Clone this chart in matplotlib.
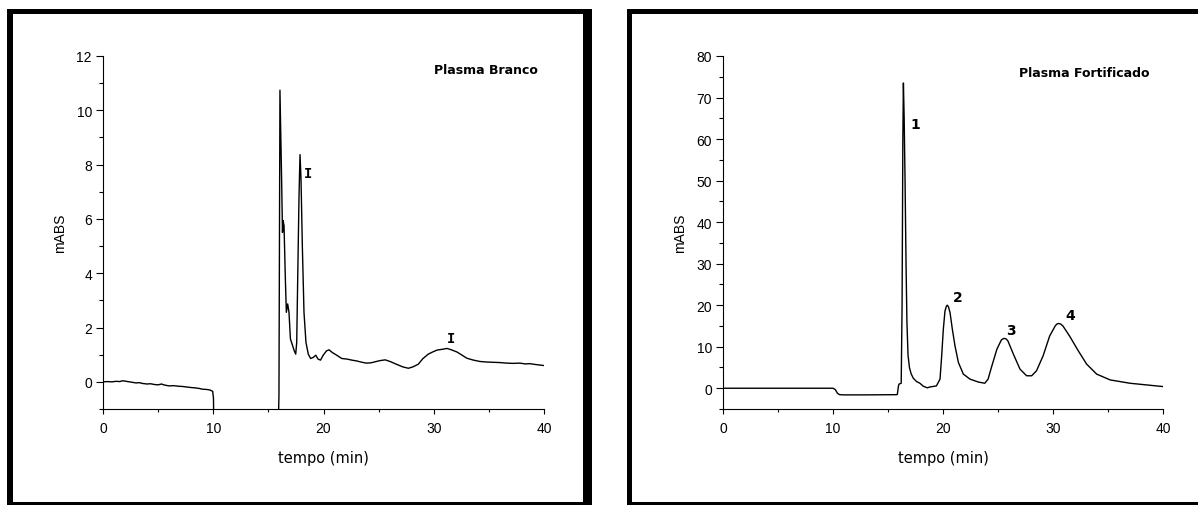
import matplotlib
matplotlib.use("Agg")
import matplotlib.pyplot as plt
from matplotlib.patches import Rectangle
from matplotlib.ticker import MultipleLocator

# Plasma Branco (left) - tempo (min), mABS
t_branco = [0, 0.4, 0.8, 1.2, 1.5, 1.8, 2.1, 2.4, 2.7, 3.0, 3.3, 3.6, 4.0, 4.3, 4.7,
            5.0, 5.3, 5.6, 6.0, 6.4, 6.8, 7.2, 7.6, 8.0, 8.3, 8.7, 9.0, 9.4, 9.7,
            9.95, 10.02, 10.05,
            15.9, 15.96, 16.05, 16.2, 16.28, 16.33, 16.42, 16.54, 16.63, 16.75,
            16.87, 17.0, 17.2, 17.35, 17.48, 17.57, 17.66, 17.78, 17.87, 17.96,
            18.08, 18.23, 18.41, 18.62, 18.83, 19.07, 19.3, 19.5, 19.73, 19.97,
            20.27, 20.5, 20.8, 21.2, 21.66, 22.1, 22.57, 23.0, 23.5, 23.9, 24.3,
            24.7, 25.1, 25.6, 26.1, 26.6, 27.2, 27.7, 28.1, 28.6, 29.0, 29.5,
            29.9, 30.3, 30.8, 31.2, 31.6, 32.1, 32.5, 33.0, 33.6, 34.2, 34.8,
            35.4, 36.0, 36.6, 37.2, 37.8, 38.3, 38.7, 39.2, 39.6, 40.0]
y_branco = [0.0, 0.01, 0.0, 0.02, 0.01, 0.04, 0.02, 0.0, -0.02, -0.04, -0.03, -0.06, -0.08, -0.07, -0.1,
            -0.11, -0.08, -0.12, -0.15, -0.14, -0.16, -0.17, -0.19, -0.21, -0.22, -0.24, -0.27, -0.28, -0.3,
            -0.35, -0.6, -1.6,
            -1.6, -0.5, 10.74, 7.47, 5.5, 5.94, 5.76, 3.79, 2.56, 2.87,
            2.56, 1.58, 1.33, 1.14, 1.02, 1.45, 3.79, 6.86, 8.37, 7.47,
            5.02, 2.56, 1.45, 1.02, 0.86, 0.9, 0.98, 0.84, 0.8, 0.98,
            1.14, 1.18, 1.08, 0.98, 0.86, 0.84, 0.8, 0.77, 0.72, 0.69, 0.7,
            0.74, 0.78, 0.81, 0.74, 0.65, 0.55, 0.5, 0.55, 0.65, 0.85, 1.02,
            1.1, 1.17, 1.2, 1.23, 1.18, 1.1, 1.0, 0.87, 0.8, 0.75, 0.73,
            0.72, 0.71, 0.69, 0.68, 0.69, 0.66, 0.67, 0.64, 0.62, 0.6]

# Plasma Fortificado (right)
t_fort = [0, 5.0, 10.0, 10.2, 10.4, 10.6, 11.0, 13.0, 15.8, 15.85, 15.95, 16.0, 16.2,
          16.28, 16.35, 16.4, 16.47, 16.55, 16.64, 16.72, 16.82, 16.95, 17.1, 17.3,
          17.6, 17.9, 18.2, 18.57, 18.8, 19.4, 19.73, 19.88, 20.03, 20.18, 20.3,
          20.39, 20.5, 20.64, 20.85, 21.09, 21.4, 21.85, 22.45, 23.2, 23.8, 24.1,
          24.4, 24.9, 25.3, 25.45, 25.6, 25.75, 25.9, 26.4, 27.0, 27.6, 28.06,
          28.5, 29.1, 29.7, 30.2, 30.35, 30.5, 30.7, 30.9, 31.5, 32.3, 33.06,
          33.97, 35.2, 37.0, 38.5, 40.0]
y_fort = [0.0, 0.0, 0.0, -0.3, -1.2, -1.55, -1.6, -1.6, -1.55, -1.45, 0.5, 1.0, 1.2,
          20.0, 60.0, 73.5, 65.0, 50.0, 30.0, 16.0, 8.0, 5.0, 3.5, 2.4,
          1.6, 1.2, 0.5, 0.1, 0.3, 0.56, 2.2, 7.8, 14.2, 18.6, 19.7,
          20.0, 19.6, 18.2, 14.2, 10.2, 6.2, 3.4, 2.2, 1.5, 1.2, 2.2,
          5.0, 9.4, 11.6, 11.9, 12.0, 11.85, 11.4, 8.2, 4.6, 3.0, 3.0,
          4.2, 7.8, 12.6, 15.0, 15.45, 15.6, 15.45, 15.0, 12.6, 9.0, 5.8,
          3.4, 2.0, 1.2, 0.8, 0.4]

labels_branco = ["I", "I"]
lab_branco_x = [18.6, 31.6]
lab_branco_y = [7.7, 1.6]

labels_fort = ["1", "2", "3", "4"]
lab_fort_x = [17.45, 21.3, 26.2, 31.6]
lab_fort_y = [63.6, 21.9, 14.0, 17.6]

W, H = 1198, 506
fig = plt.figure(figsize=(W / 100, H / 100), dpi=100)
plt.rcParams['font.family'] = ['Liberation Sans', 'DejaVu Sans']


def px_rect(x0, y0, x1, y1):
    # rectangle given in pixel coords (origin top-left)
    r = Rectangle((x0 / W, 1 - y1 / H), (x1 - x0) / W, (y1 - y0) / H,
                  transform=fig.transFigure, facecolor='black', edgecolor='none')
    fig.add_artist(r)


# frames around each panel
px_rect(7, 10, 13, 506)
px_rect(7, 10, 592, 15)
px_rect(583, 10, 592, 506)
px_rect(7, 503, 592, 506)
px_rect(627, 10, 632, 506)
px_rect(627, 10, 1198, 15)
px_rect(627, 503, 1198, 506)


def setup(ax, ylim, ymaj, ymin):
    ax.set_xlim(0, 40)
    ax.set_ylim(*ylim)
    ax.spines['top'].set_visible(False)
    ax.spines['right'].set_visible(False)
    ax.spines['left'].set_linewidth(0.8)
    ax.spines['bottom'].set_linewidth(0.8)
    ax.xaxis.set_major_locator(MultipleLocator(10))
    ax.xaxis.set_minor_locator(MultipleLocator(5))
    ax.yaxis.set_major_locator(MultipleLocator(ymaj))
    ax.yaxis.set_minor_locator(MultipleLocator(ymin))
    ax.set_yticks([v for v in ax.get_yticks() if 0 <= v <= ylim[1]])
    ax.tick_params(axis='x', which='major', length=3.5, width=0.8, pad=5, labelsize=10)
    ax.tick_params(axis='x', which='minor', length=2.5, width=0.8)
    ax.tick_params(axis='y', which='major', length=5, width=0.8, pad=3, labelsize=10)
    ax.tick_params(axis='y', which='minor', length=3, width=0.8)
    ax.set_xlabel('tempo (min)', fontsize=10.5, family='DejaVu Sans', va='center')
    ax.xaxis.set_label_coords(0.5, -0.136)
    ax.set_ylabel('mABS', fontsize=10, va='center')
    ax.yaxis.set_label_coords(-0.0975, 0.5)


axL = fig.add_axes([103 / W, 96 / H, 441 / W, 353 / H])
axL.plot(t_branco, y_branco, color='black', lw=1.0)
setup(axL, (-1, 12), 2, 1)
axL.text(34.7, 11.5, 'Plasma Branco', fontsize=9, fontweight='bold',
         family='DejaVu Sans', ha='center', va='center')
for s, x, y in zip(labels_branco, lab_branco_x, lab_branco_y):
    axL.text(x, y, s, fontsize=10, fontweight='bold', family='DejaVu Sans Mono',
             ha='center', va='center')

axR = fig.add_axes([723 / W, 96 / H, 440 / W, 353 / H])
axR.plot(t_fort, y_fort, color='black', lw=1.0)
setup(axR, (-5, 80), 10, 5)
axR.text(32.8, 76.1, 'Plasma Fortificado', fontsize=9, fontweight='bold',
         family='DejaVu Sans', ha='center', va='center')
for s, x, y in zip(labels_fort, lab_fort_x, lab_fort_y):
    axR.text(x, y, s, fontsize=10, fontweight='bold', family='DejaVu Sans',
             ha='center', va='center')

fig.savefig('out.png', dpi=100)
